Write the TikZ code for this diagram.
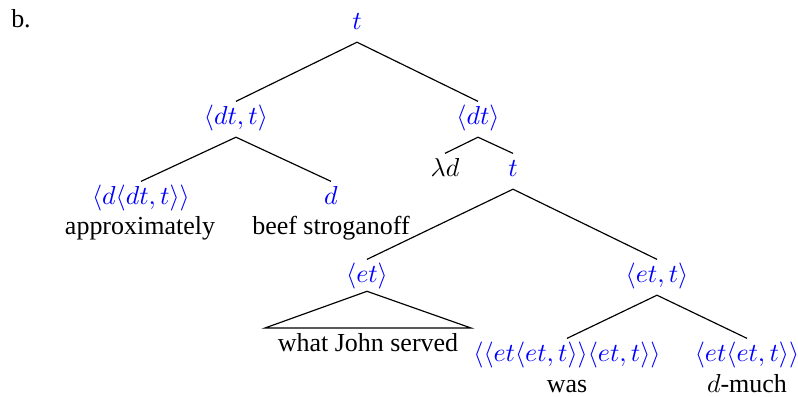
\documentclass[tikz,border=0pt]{standalone}
\usepackage[no-math]{fontspec}
\setmainfont{Liberation Serif}
\begin{document}
\begin{tikzpicture}[x=0.385pt,y=-0.385pt,
  ty/.style={text=blue, anchor=base, inner xsep=0pt, inner ysep=1.9pt, text height=7pt, text depth=2.6pt},
  wd/.style={anchor=base, inner sep=0pt},
  br/.style={draw=black, line width=0.45pt}]
\useasboundingbox (0,0) rectangle (798,397);
\node[wd] (lab) at (21,28) {b.};
\node[ty] (root) at (357,30) {$t$};
\node[ty] (dtt) at (236,125) {$\langle dt,t\rangle$};
\node[ty] (dt) at (478,125) {$\langle dt\rangle$};
\node[ty] (ddtt) at (141,205) {$\langle d\langle dt,t\rangle\rangle$};
\node[ty] (d) at (331,205) {$d$};
\node[wd] (approx) at (140,235) {approximately};
\node[wd] (beef) at (331,235) {beef stroganoff};
\node[ty,text=black] (lam) at (445,177) {$\lambda d$};
\node[ty] (t2) at (513,177) {$t$};
\node[ty] (et) at (367,283) {$\langle et\rangle$};
\node[ty] (ett) at (657,283) {$\langle et,t\rangle$};
\coordinate (tl) at (265,328);
\coordinate (tr) at (471,328);
\node[wd] (wjs) at (368,352) {what John served};
\node[ty] (was) at (567,362) {$\langle\langle et\langle et,t\rangle\rangle\langle et,t\rangle\rangle$};
\node[ty] (much) at (747,362) {$\langle et\langle et,t\rangle\rangle$};
\node[wd] (wasw) at (567,393) {was};
\node[wd] (muchw) at (747,393) {$d$-much};
\draw[br] (root.south) -- (dtt.north);
\draw[br] (root.south) -- (dt.north);
\draw[br] (dtt.south) -- (ddtt.north);
\draw[br] (dtt.south) -- (d.north);
\draw[br] (dt.south) -- (lam.north);
\draw[br] (dt.south) -- (t2.north);
\draw[br] (t2.south) -- (et.north);
\draw[br] (t2.south) -- (ett.north);
\draw[br] ([yshift=1.5pt]et.south) -- (tl) -- (tr) -- cycle;
\draw[br] (ett.south) -- (was.north);
\draw[br] (ett.south) -- (much.north);
\end{tikzpicture}
\end{document}
